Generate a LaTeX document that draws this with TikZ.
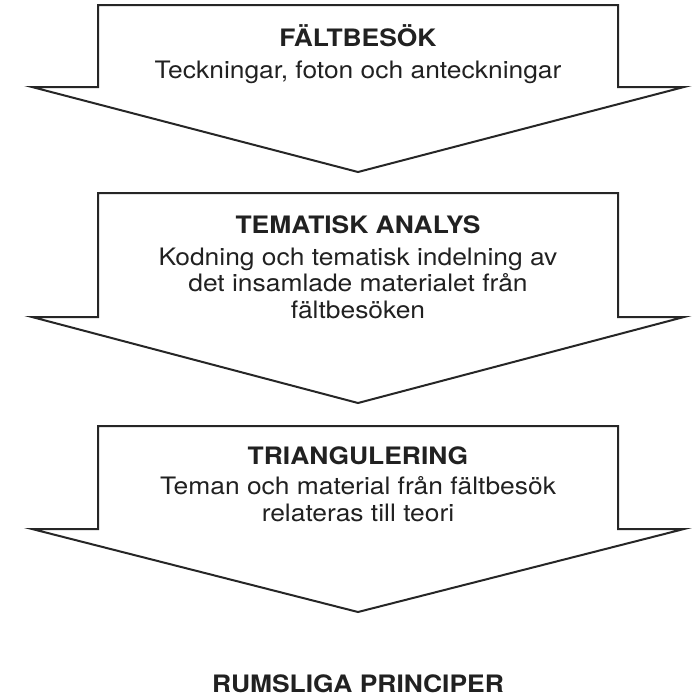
\documentclass[tikz,border=0pt]{standalone}
\usepackage{fontspec}
\setmainfont[FakeStretch=1.1]{TeX Gyre Heros}
\usetikzlibrary{positioning}
\tikzset{
    stage/.style={
        draw=black!85, line width=1pt, line join=miter, fill=white
    },
    title/.style={font=\fontsize{12}{13.25}\selectfont\bfseries, text=black!87, inner sep=0pt},
    desc/.style={align=center, font=\fontsize{12}{13.25}\selectfont, text=black!87, inner sep=0pt},
    result/.style={font=\fontsize{12}{13.25}\selectfont\bfseries, text=black!87, inner sep=0pt}
}

\begin{document}
\begin{tikzpicture}[x=0.5pt, y=-0.5pt]
\useasboundingbox (0,0) rectangle (693,697);

% ── Stage 1: Fältbesök ───────────────────────────────────────────────────────
\draw[stage] (98,5) -- (618,5) -- (618,87) -- (684,87) -- (358,172)
    -- (32,87) -- (98,87) -- cycle;
\node[title, anchor=base] (falt) at (358,46) {FÄLTBESÖK};
\node[desc, anchor=base] (falttext) at ([yshift=-16pt]falt.base)
    {Teckningar, foton och anteckningar};

% ── Stage 2: Tematisk analys ─────────────────────────────────────────────────
\draw[stage] (98,193) -- (618,193) -- (618,317) -- (684,317) -- (358,403)
    -- (32,317) -- (98,317) -- cycle;
\node[title, anchor=base] (analys) at (358,233) {TEMATISK ANALYS};
\node[desc, anchor=base] (analystext) at ([yshift=-42.5pt]analys.base)
    {Kodning och tematisk indelning av\\det insamlade materialet från\\fältbesöken};

% ── Stage 3: Triangulering ───────────────────────────────────────────────────
\draw[stage] (98,426) -- (618,426) -- (618,529) -- (684,529) -- (358,612)
    -- (32,529) -- (98,529) -- cycle;
\node[title, anchor=base] (triang) at (358,464) {TRIANGULERING};
\node[desc, anchor=base] (triangtext) at ([yshift=-28.5pt]triang.base)
    {Teman och material från fältbesök\\relateras till teori};

% ── Result ───────────────────────────────────────────────────────────────────
\node[result, anchor=base] (principer) at (358,692) {RUMSLIGA PRINCIPER};

\end{tikzpicture}
\end{document}
